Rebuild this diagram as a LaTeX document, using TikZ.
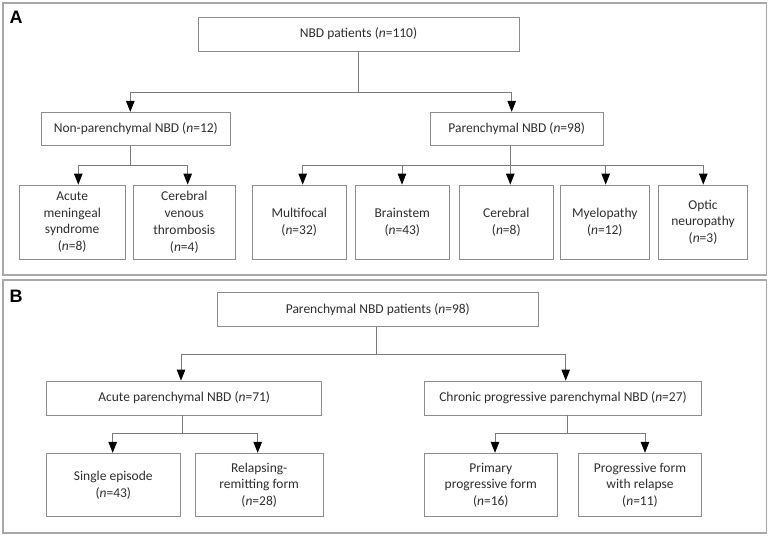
\documentclass[tikz,border=0pt]{standalone}
\usepackage{fontspec}
\setmainfont{Carlito}
\newfontfamily\labelfont{Liberation Sans}
\usetikzlibrary{arrows.meta}
\definecolor{framegray}{HTML}{A8A8A8}
\definecolor{boxgray}{HTML}{8C8C8C}
\definecolor{linegray}{HTML}{7A7A7A}
\newcommand{\nn}[1]{(\textit{n}=#1)}
\tikzset{
  panel/.style={draw=framegray, line width=1.2pt},
  boxnode/.style={draw=boxgray, line width=0.9pt, rectangle, inner sep=0pt, align=center,
    font=\fontsize{13.5}{16.7}\selectfont, text=black!82},
  conn/.style={draw=linegray, line width=0.9pt},
  arr/.style={conn, -{Triangle[length=11pt,width=8.5pt,color=black]}},
  panellabel/.style={font=\labelfont\bfseries\fontsize{18}{18}\selectfont, anchor=base west, inner sep=0pt}
}
\begin{document}
\begin{tikzpicture}[x=1pt,y=-1pt]
\useasboundingbox (0,0) rectangle (768,536);
\fill[white] (0,0) rectangle (768,536);
% panels
\draw[panel] (3,3) rectangle (766.5,275);
\draw[panel] (3,280) rectangle (766.5,533);
\node[panellabel] (labA) at (9.5,23) {A};
\node[panellabel] (labB) at (9.5,302) {B};

% ---------- Panel A ----------
\node[boxnode, minimum width=321pt, minimum height=34pt] (topA) at (358.5,34) {NBD patients \nn{110}};
\node[boxnode, minimum width=189pt, minimum height=33.4pt] (nonpar) at (135.8,129) {Non-parenchymal NBD \nn{12}};
\node[boxnode, minimum width=173.3pt, minimum height=33.4pt] (par) at (516.7,129) {Parenchymal NBD \nn{98}};

\node[boxnode, minimum width=105.7pt, minimum height=74.3pt] (acm) at (72.2,222.2) {Acute\\meningeal\\syndrome\\\nn{8}};
\node[boxnode, minimum width=102pt, minimum height=74.3pt] (cvt) at (184.3,222.2) {Cerebral\\venous\\thrombosis\\\nn{4}};
\node[boxnode, minimum width=93.7pt, minimum height=74.3pt] (multi) at (299.2,222.2) {Multifocal\\\nn{32}};
\node[boxnode, minimum width=93.3pt, minimum height=74.3pt] (brain) at (402.3,222.2) {Brainstem\\\nn{43}};
\node[boxnode, minimum width=94pt, minimum height=74.3pt] (cereb) at (506.3,222.2) {Cerebral\\\nn{8}};
\node[boxnode, minimum width=89pt, minimum height=74.3pt] (myelo) at (604.8,222.2) {Myelopathy\\\nn{12}};
\node[boxnode, minimum width=89.4pt, minimum height=74.3pt] (optic) at (703,222.2) {Optic\\neuropathy\\\nn{3}};

\coordinate (jA) at (358.7,92);
\draw[conn] (topA.south -| jA) -- (jA);
\draw[arr] (jA) -| (nonpar.north -| 130.3,0);
\draw[arr] (jA) -| (par.north -| 511.7,0);

\coordinate (jN) at (130.3,165.3);
\draw[conn] (nonpar.south -| jN) -- (jN);
\draw[arr] (jN) -| (acm.north -| 78.3,0);
\draw[arr] (jN) -| (cvt.north -| 187.7,0);

\coordinate (jP) at (510.3,165.3);
\draw[conn] (par.south -| jP) -- (jP);
\draw[arr] (jP) -| (multi.north -| 302.7,0);
\draw[arr] (jP) -| (brain.north -| 402,0);
\draw[arr] (jP) -- (cereb.north -| jP);
\draw[arr] (jP) -| (myelo.north -| 605.7,0);
\draw[arr] (jP) -| (optic.north -| 703.3,0);

% ---------- Panel B ----------
\node[boxnode, minimum width=321pt, minimum height=33.7pt] (topB) at (377.8,309.2) {Parenchymal NBD patients \nn{98}};
\node[boxnode, minimum width=275pt, minimum height=34pt] (acute) at (184.2,398) {Acute parenchymal NBD \nn{71}};
\node[boxnode, minimum width=277.4pt, minimum height=34pt] (chronic) at (563,398) {Chronic progressive parenchymal NBD \nn{27}};

\node[boxnode, minimum width=133.3pt, minimum height=63.4pt] (single) at (113.3,485) {Single episode\\\nn{43}};
\node[boxnode, minimum width=128.3pt, minimum height=63.4pt] (relrem) at (259.2,485) {Relapsing-\\remitting form\\\nn{28}};
\node[boxnode, minimum width=133pt, minimum height=63.4pt] (primary) at (490.8,485) {Primary\\progressive form\\\nn{16}};
\node[boxnode, minimum width=123.4pt, minimum height=63.4pt] (progrel) at (640,485) {Progressive form\\with relapse\\\nn{11}};

\coordinate (jB) at (376.7,354.3);
\draw[conn] (topB.south -| jB) -- (jB);
\draw[arr] (jB) -| (acute.north -| 181,0);
\draw[arr] (jB) -| (chronic.north -| 565.7,0);

\coordinate (jAc) at (182.7,433.3);
\draw[conn] (acute.south -| jAc) -- (jAc);
\draw[arr] (jAc) -| (single.north -| 112.7,0);
\draw[arr] (jAc) -| (relrem.north -| 257.7,0);

\coordinate (jCh) at (567.3,433.3);
\draw[conn] (chronic.south -| jCh) -- (jCh);
\draw[arr] (jCh) -| (primary.north -| 495,0);
\draw[arr] (jCh) -| (progrel.north -| 645,0);
\end{tikzpicture}
\end{document}
